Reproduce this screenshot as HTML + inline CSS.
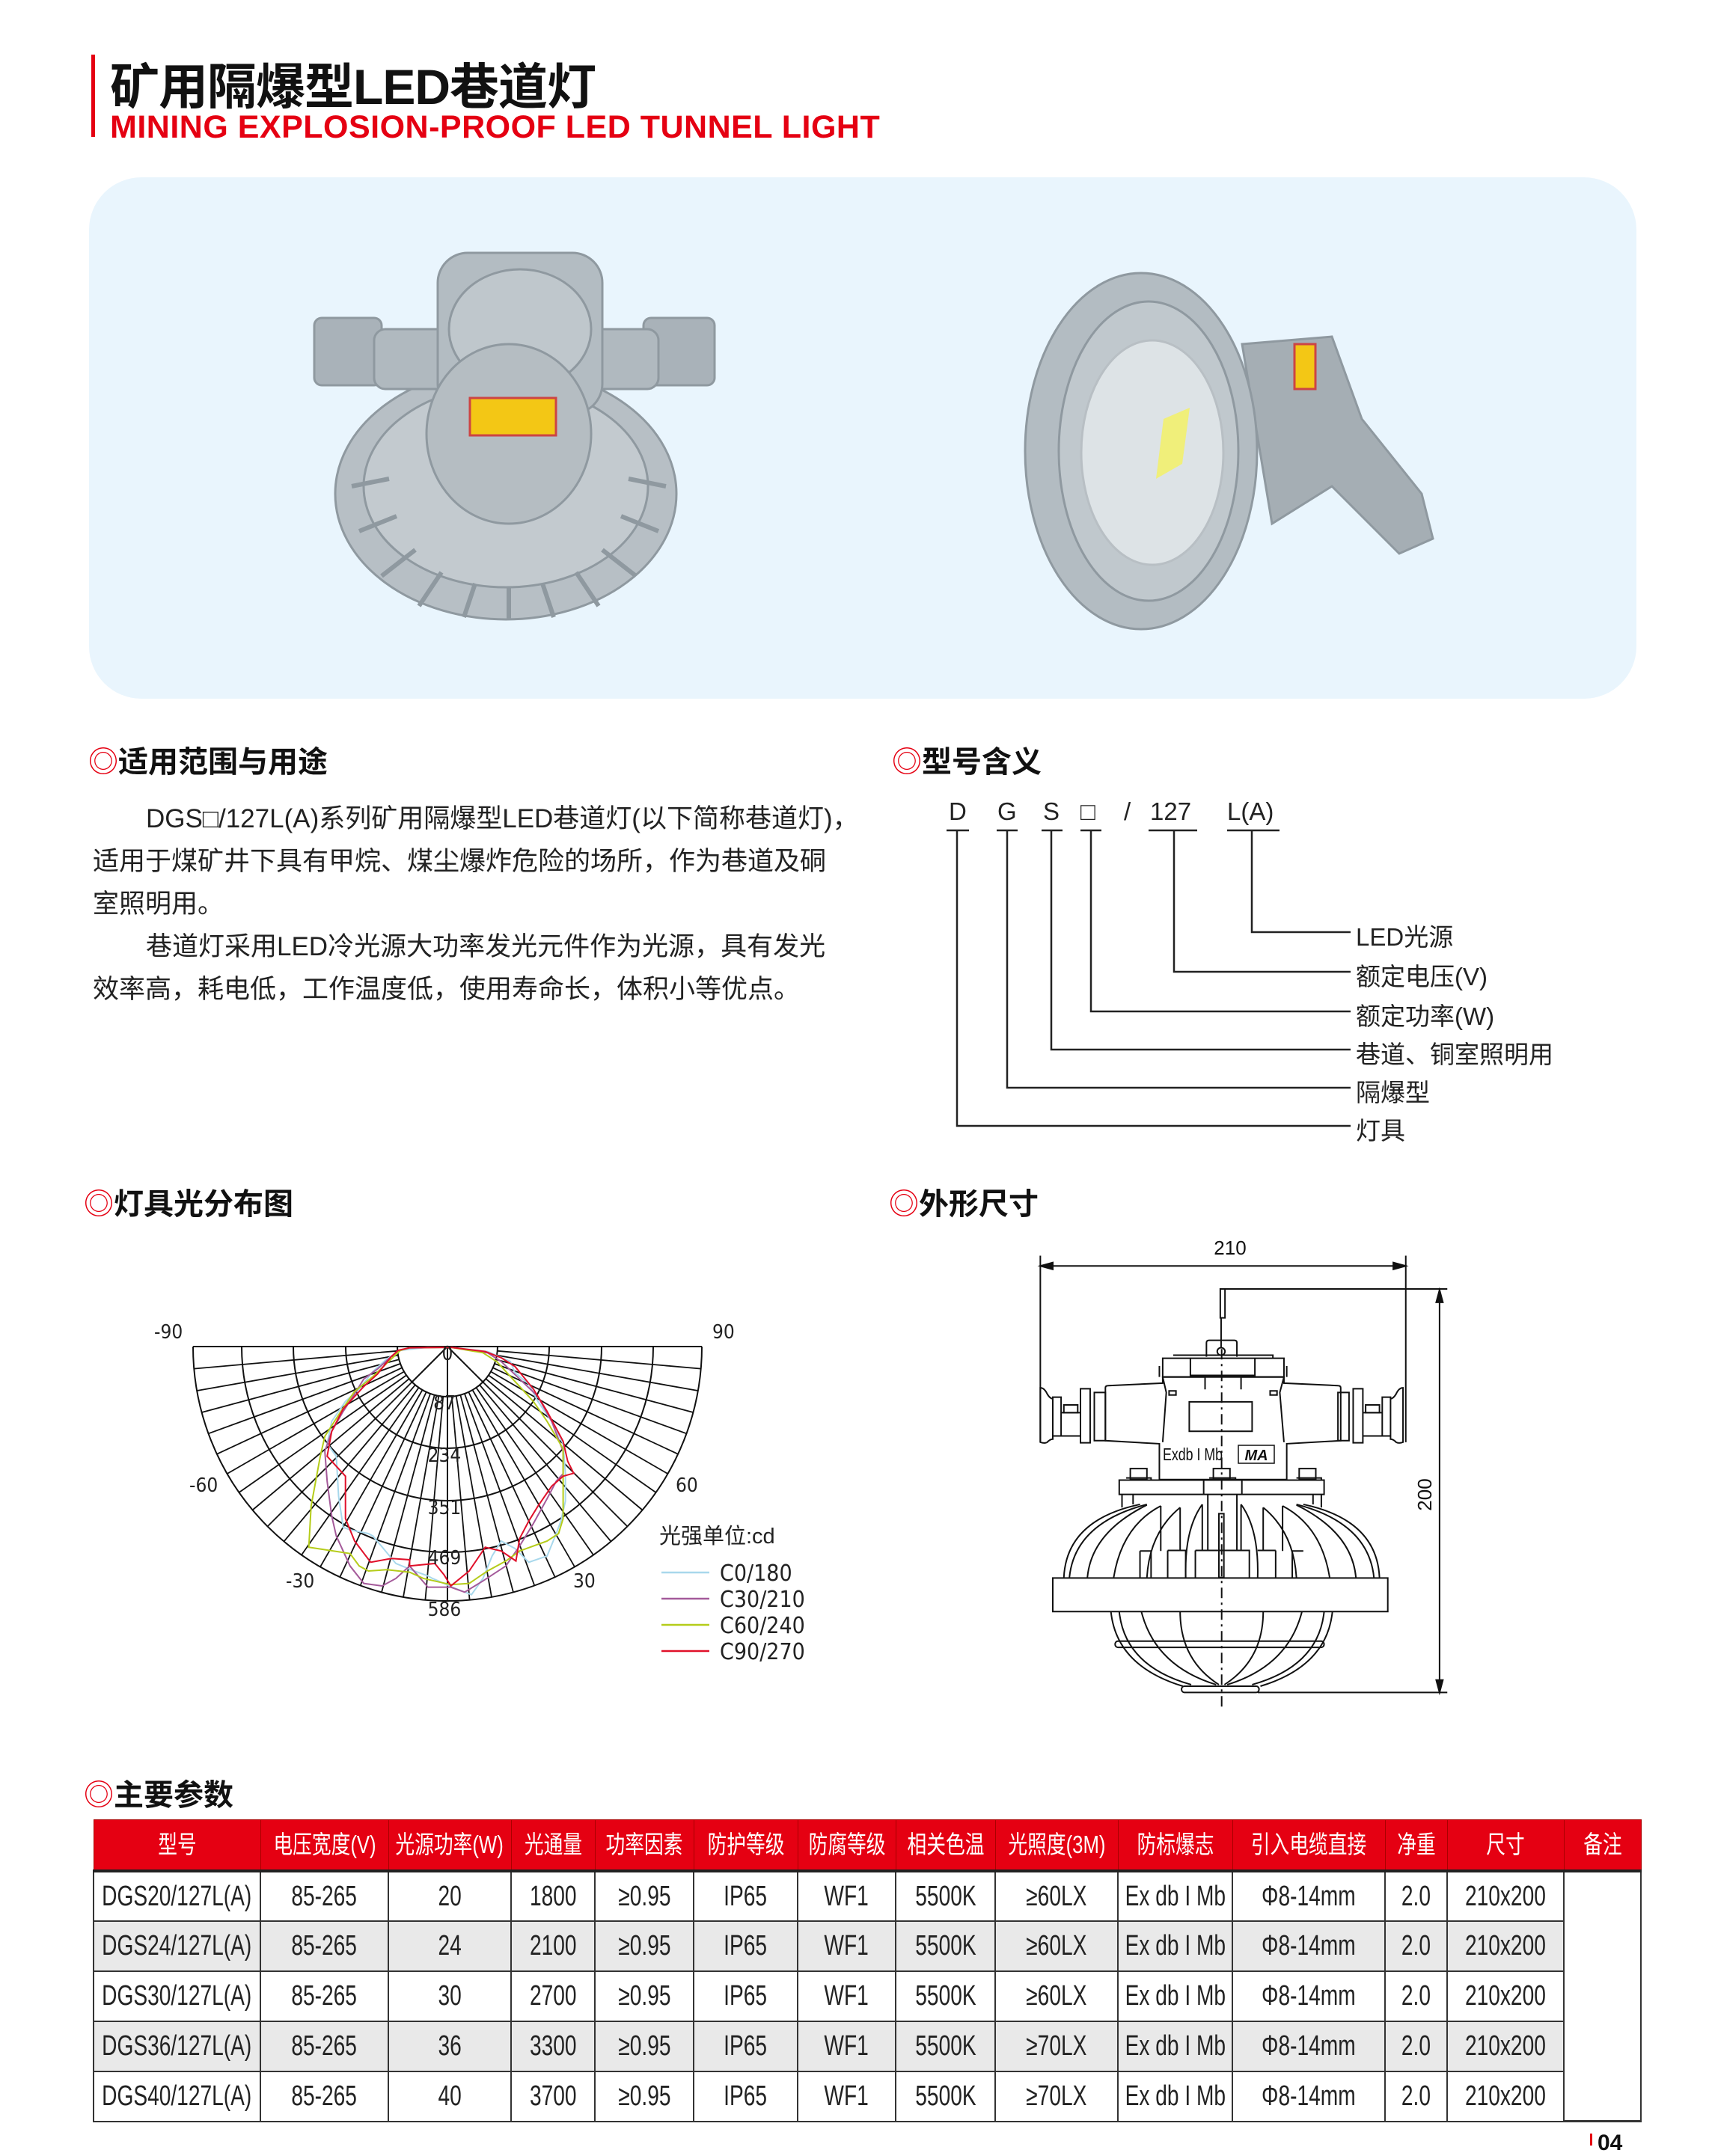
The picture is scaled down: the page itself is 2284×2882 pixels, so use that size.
<!DOCTYPE html>
<html><head><meta charset="utf-8">
<style>
*{margin:0;padding:0;box-sizing:border-box}
body{width:2284px;height:2868px;background:#fff;position:relative;overflow:hidden;font-family:"Liberation Sans","Noto Sans CJK SC",sans-serif;color:#222}
.a{position:absolute;white-space:nowrap}
.h{font-weight:bold;font-size:40px;color:#111}
.h b{color:#e50012;font-weight:normal}
.p{font-size:35px;color:#222}
.lbl{font-size:33px;color:#222}
table{position:absolute;left:124px;top:2432px;border-collapse:collapse;table-layout:fixed;width:2068px}
td{border:2px solid #333;text-align:center;font-size:38px;height:67px;padding:0;white-space:nowrap;overflow:visible;line-height:30px}
td span{display:inline-block;transform:scaleX(0.74);margin:0 -80px}
tr.hd td{background:#e50012;color:#fff;font-size:33px;height:68px;border:1px solid #a00;border-bottom:4px solid #222}
tr.hd td span{transform:scaleX(0.78)}
tr.g td{background:#e9e9e9}
</style></head><body>
<div class="a" style="left:122px;top:73px;width:5px;height:110px;background:#e50012"></div>
<div class="a" style="left:147px;top:63px;font-size:66px;font-weight:bold;color:#111;letter-spacing:-1px">矿用隔爆型LED巷道灯</div>
<div class="a" style="left:147px;top:146px;font-size:43px;font-weight:bold;color:#e50012;letter-spacing:0.5px">MINING EXPLOSION-PROOF LED TUNNEL LIGHT</div>

<div class="a" style="left:119px;top:237px;width:2068px;height:697px;background:#e9f5fd;border-radius:70px"></div>
<svg class="a" style="left:0;top:0" width="2284" height="960">
 <g fill="#a9b2b9" stroke="#8f99a0" stroke-width="3">
  <ellipse cx="676" cy="660" rx="228" ry="168" fill="#b7bfc5"/>
  <ellipse cx="676" cy="650" rx="190" ry="135" fill="#c3cacf"/>
  <g stroke="#8f99a0" stroke-width="6">
   <path d="M470,650L520,640M480,710L530,690M510,770L555,735M560,810L590,765M620,825L635,780M680,828L680,785M740,825L725,780M800,810L770,765M850,770L805,735M880,710L830,690M890,650L840,640"/>
  </g>
  <rect x="420" y="425" width="90" height="90" rx="10"/>
  <rect x="860" y="425" width="95" height="90" rx="10"/>
  <rect x="500" y="440" width="380" height="80" rx="15" fill="#b0b9bf"/>
  <rect x="585" y="338" width="220" height="215" rx="40" fill="#b3bcc2"/>
  <ellipse cx="695" cy="440" rx="95" ry="80" fill="#bfc7cc"/>
  <ellipse cx="680" cy="580" rx="110" ry="120" fill="#b5bdc2"/>
  <rect x="628" y="532" width="115" height="50" fill="#f3c715" stroke="#c44"/>
  <path d="M1660,460 L1780,450 L1820,560 L1900,660 L1915,720 L1870,740 L1780,650 L1700,700 Z" fill="#a5aeb4"/>
  <ellipse cx="1525" cy="603" rx="155" ry="238" fill="#b3bcc2"/>
  <ellipse cx="1535" cy="603" rx="120" ry="200" fill="#c0c8cd"/>
  <ellipse cx="1540" cy="605" rx="95" ry="150" fill="#dde3e6" stroke="#b8bfc4"/>
  <path d="M1555,560 L1590,545 L1580,620 L1545,640 Z" fill="#f0ef7a" stroke="none"/>
  <rect x="1730" y="460" width="28" height="60" fill="#f3c715" stroke="#c44"/>
 </g>
</svg>

<div class="a h" style="left:118px;top:986px"><b>◎</b>适用范围与用途</div>
<div class="a p" style="left:195px;top:1066px">DGS□/127L(A)系列矿用隔爆型LED巷道灯(以下简称巷道灯)，</div>
<div class="a p" style="left:124px;top:1123px">适用于煤矿井下具有甲烷、煤尘爆炸危险的场所，作为巷道及硐</div>
<div class="a p" style="left:124px;top:1180px">室照明用。</div>
<div class="a p" style="left:195px;top:1237px">巷道灯采用LED冷光源大功率发光元件作为光源，具有发光</div>
<div class="a p" style="left:124px;top:1294px">效率高，耗电低，工作温度低，使用寿命长，体积小等优点。</div>

<div class="a h" style="left:1192px;top:986px"><b>◎</b>型号含义</div>
<div class="a lbl" style="left:1268px;top:1066px">D</div>
<div class="a lbl" style="left:1333px;top:1066px">G</div>
<div class="a lbl" style="left:1394px;top:1066px">S</div>
<div class="a lbl" style="left:1444px;top:1066px">□</div>
<div class="a lbl" style="left:1502px;top:1066px">/</div>
<div class="a lbl" style="left:1537px;top:1066px">127</div>
<div class="a lbl" style="left:1640px;top:1066px">L(A)</div>
<svg class="a" style="left:0;top:0" width="2284" height="1540">
 <g stroke="#222" stroke-width="2.5" fill="none">
  <path d="M1265,1110H1295M1332,1110H1360M1392,1110H1420M1444,1110H1472M1535,1110H1600M1640,1110H1710"/>
  <path d="M1279,1110V1505H1805M1346,1110V1454H1805M1405,1110V1403H1805M1458,1110V1352H1805M1569,1110V1299H1805M1673,1110V1246H1805"/>
 </g>
</svg>
<div class="a lbl" style="left:1812px;top:1226px">LED光源</div>
<div class="a lbl" style="left:1812px;top:1279px">额定电压(V)</div>
<div class="a lbl" style="left:1812px;top:1332px">额定功率(W)</div>
<div class="a lbl" style="left:1812px;top:1383px">巷道、铜室照明用</div>
<div class="a lbl" style="left:1812px;top:1434px">隔爆型</div>
<div class="a lbl" style="left:1812px;top:1485px">灯具</div>

<div class="a h" style="left:112px;top:1577px"><b>◎</b>灯具光分布图</div>
<div class="a h" style="left:1188px;top:1577px"><b>◎</b>外形尺寸</div>

<svg class="a" style="left:0;top:0" width="1200" height="2300">
 <g stroke="#111" stroke-width="2" fill="none">
  <path d="M258,1800 H938"/>
  <path d="M531,1800 A67,67 0 0 0 665,1800"/>
  <path d="M462,1800 A136,136 0 0 0 734,1800"/>
  <path d="M392,1800 A206,206 0 0 0 804,1800"/>
  <path d="M323,1800 A275,275 0 0 0 873,1800"/>
  <path d="M258,1800 A340,340 0 0 0 938,1800"/>
  <path d="M598,1800 V2140 M598,1800 L551,1847 M598,1800 L645,1847"/>
  <g id="rad"></g>
 </g>
 <g fill="none" stroke-width="2" transform="translate(180,1740) scale(0.6124,0.3333)">
  <polyline vector-effect="non-scaling-stroke" stroke="#a8d8ec" points="580,195 640,183 690,183 770,200 820,240 830,285 860,330 880,400 910,480 935,570 940,690 940,800 930,880 920,930 900,1020 860,1045 830,990 800,960 780,1020 760,1110 735,1175 700,1150 650,1110 640,1100 610,1080 570,1050 520,940 510,930 470,915 455,905 445,780 440,620 420,570 430,480 460,400 490,350 520,280 550,230 580,195"/>
  <polyline vector-effect="non-scaling-stroke" stroke="#a45a9a" points="580,195 560,220 530,270 500,310 480,370 455,440 430,520 415,600 420,720 430,860 440,940 470,1060 500,1130 540,1140 570,1110 600,1060 640,1145 690,1145 720,1165 760,1120 810,1060 840,980 870,890 900,790 920,720 935,690 935,600 910,480 880,380 840,310 800,240 770,205 690,183 600,185 580,195"/>
  <polyline vector-effect="non-scaling-stroke" stroke="#b5cc1a" points="580,195 560,230 520,300 480,360 450,440 415,540 405,620 385,820 380,985 470,1010 490,1060 510,1080 550,1075 600,1085 630,1110 690,1135 730,1130 770,1080 810,1040 840,1000 900,960 925,930 935,870 935,700 935,590 900,480 870,400 830,320 790,240 760,205 690,183 600,185 580,195"/>
  <polyline vector-effect="non-scaling-stroke" stroke="#e0102a" points="575,195 600,185 690,183 765,200 800,225 830,260 870,350 900,440 935,560 945,640 958,688 935,700 910,740 880,820 860,880 840,950 832,1040 800,1000 765,985 730,1080 690,1140 675,1095 655,1050 600,1060 600,1035 560,1030 515,1045 480,960 460,870 460,700 420,620 430,520 455,430 480,380 500,340 530,290 560,220 575,195"/>
 </g>
 <g stroke-width="2.5">
  <line x1="884" y1="2102" x2="948" y2="2102" stroke="#a8d8ec"/>
  <line x1="884" y1="2137" x2="948" y2="2137" stroke="#a45a9a"/>
  <line x1="884" y1="2172" x2="948" y2="2172" stroke="#b5cc1a"/>
  <line x1="884" y1="2207" x2="948" y2="2207" stroke="#e0102a"/>
 </g>
 <g font-family="DejaVu Sans Condensed, Liberation Sans, sans-serif" font-size="26" fill="#222">
  <text x="206" y="1789">-90</text><text x="952" y="1789">90</text>
  <text x="253" y="1994">-60</text><text x="903" y="1994">60</text>
  <text x="382" y="2122">-30</text><text x="766" y="2122">30</text>
  <text x="598" y="1818" text-anchor="middle">0</text>
  <text x="594" y="1884" text-anchor="middle">87</text>
  <text x="594" y="1954" text-anchor="middle">234</text>
  <text x="594" y="2024" text-anchor="middle">351</text>
  <text x="594" y="2091" text-anchor="middle">469</text>
  <text x="594" y="2160" text-anchor="middle">586</text>
  <text x="881" y="2063" font-family="Liberation Sans, Noto Sans CJK SC, sans-serif" font-size="29">光强单位:cd</text>
  <text x="962" y="2113" font-size="30">C0/180</text>
  <text x="962" y="2148" font-size="30">C30/210</text>
  <text x="962" y="2183" font-size="30">C60/240</text>
  <text x="962" y="2218" font-size="30">C90/270</text>
 </g>
</svg>
<script>
(function(){var g=document.getElementById('rad'),s='';for(var a=-85;a<=85;a+=5){if(a===0)continue;var r=a*Math.PI/180,sx=Math.sin(r),cy=Math.cos(r);s+='M'+(598+67*sx).toFixed(1)+','+(1800+67*cy).toFixed(1)+'L'+(598+340*sx).toFixed(1)+','+(1800+340*cy).toFixed(1);}
g.innerHTML='<path d="'+s+'" stroke="#111" stroke-width="1.8" fill="none"/>';})();
</script>

<svg class="a" style="left:0;top:0" width="2284" height="2320">
 <g transform="translate(1370,1637) scale(0.37,0.4155)" fill="none" stroke="#111" stroke-width="2">
  <path vector-effect="non-scaling-stroke" d="M55,100V700M1375,100V700M55,133H1375M720,207H1525M840,1505H1525M1497,210V1505"/>
  <path vector-effect="non-scaling-stroke" fill="#111" d="M55,133 L100,122 L100,144Z M1375,133 L1330,122 L1330,144Z M1497,210 L1485,250 L1509,250Z M1497,1505 L1485,1465 L1509,1465Z"/>
  <path vector-effect="non-scaling-stroke" d="M705,207H722V300H705ZM708,300V395"/>
  <ellipse vector-effect="non-scaling-stroke" cx="708" cy="408" rx="14" ry="12"/>
  <path vector-effect="non-scaling-stroke" d="M655,425V380Q655,372 665,372H755Q765,372 765,380V425M535,420H895V430M497,430H935V490H497ZM597,430V485H830V430M485,455V490M945,455V490"/>
  <path vector-effect="non-scaling-stroke" d="M290,525Q290,518 300,518L497,510V490H935V510L1130,518Q1140,518 1140,525V695L945,705V820H485V705L290,695Z"/>
  <path vector-effect="non-scaling-stroke" d="M497,490L510,540L497,700M935,490L920,540L935,700M497,490H650V530M935,490H780V530M520,535H545V548H520ZM885,535H910V548H885Z"/>
  <rect vector-effect="non-scaling-stroke" x="593" y="570" width="227" height="95"/>
  <path vector-effect="non-scaling-stroke" d="M250,540H290V695H250ZM200,528H235V702H200ZM130,605H200V680H130ZM100,555H130V680H100ZM55,525Q70,525 80,545Q90,560 100,560V690Q90,690 80,700Q70,705 55,700Z"/>
  <path vector-effect="non-scaling-stroke" d="M1170,540H1130V695H1170ZM1220,528H1185V702H1220ZM1290,605H1220V680H1290ZM1320,555H1290V680H1320ZM1365,525Q1350,525 1340,545Q1330,560 1320,560V690Q1330,690 1340,700Q1350,705 1365,700Z"/>
  <path vector-effect="non-scaling-stroke" d="M140,580H190V605H140ZM1230,580H1280V605H1230ZM380,785H440V820H380ZM680,785H740V820H680ZM990,785H1050V820H990ZM365,815H455V822M665,815H760V822M980,815H1070V822"/>
  <path vector-effect="non-scaling-stroke" d="M340,822H1080V868H340ZM645,822V868M783,822V868M350,868V910M390,868V900M1040,868V900M1070,868V910M660,868V1048M765,868V1048M700,930H718V1135H700Z"/>
  <path vector-effect="non-scaling-stroke" d="M140,1135Q150,950 415,900M160,1135Q180,960 440,900M225,1135Q240,990 440,902M320,1135Q350,970 490,905M440,1135Q450,990 560,910M580,1135Q575,980 640,900M490,905V1050M560,910V1048M640,900V1048"/>
  <path vector-effect="non-scaling-stroke" d="M1280,1135Q1270,950 1005,900M1260,1135Q1240,960 980,900M1195,1135Q1180,990 980,902M1100,1135Q1070,970 930,905M980,1135Q970,990 860,910M840,1135Q845,980 780,900M930,905V1050M860,910V1048M780,900V1048"/>
  <path vector-effect="non-scaling-stroke" d="M415,1050H455V1135M515,1048H580V1135M515,1048V1135M415,1050V1135M615,1048H810V1135M615,1048V1135M1005,1050H965V1135M905,1048H840M905,1048V1135"/>
  <rect vector-effect="non-scaling-stroke" x="100" y="1137" width="1210" height="108"/>
  <path vector-effect="non-scaling-stroke" d="M310,1245Q330,1420 570,1485M340,1245Q360,1420 600,1480M1110,1245Q1090,1420 850,1485M1080,1245Q1060,1420 820,1480M420,1245Q470,1420 690,1480M560,1245Q560,1400 700,1480M1000,1245Q950,1420 730,1480M860,1245Q860,1400 720,1480"/>
  <rect vector-effect="non-scaling-stroke" x="325" y="1340" width="755" height="20" rx="10"/>
  <rect vector-effect="non-scaling-stroke" x="565" y="1485" width="280" height="20" rx="10"/>
  <path vector-effect="non-scaling-stroke" stroke-dasharray="14,6,3,6" d="M710,400V1560"/>
 </g>
 <text x="1644" y="1677" font-size="26" text-anchor="middle" fill="#111" font-family="Liberation Sans,sans-serif">210</text>
 <text transform="translate(1913,1998) rotate(-90)" font-size="26" text-anchor="middle" fill="#111" font-family="Liberation Sans,sans-serif">200</text>
 <text x="1554" y="1952" font-size="23" fill="#111" font-family="Liberation Sans,sans-serif" textLength="80" lengthAdjust="spacingAndGlyphs">Exdb I Mb</text>
 <rect x="1655" y="1932" width="48" height="24" fill="#fff" stroke="#111" stroke-width="1.5"/>
 <text x="1679" y="1952" font-size="20" font-weight="bold" font-style="italic" text-anchor="middle" fill="#111" font-family="Liberation Sans,sans-serif">MA</text>
</svg>

<div class="a h" style="left:112px;top:2367px"><b>◎</b>主要参数</div>
<table>
<colgroup><col style="width:223px"><col style="width:171px"><col style="width:164px"><col style="width:112px"><col style="width:132px"><col style="width:139px"><col style="width:131px"><col style="width:133px"><col style="width:164px"><col style="width:153px"><col style="width:204px"><col style="width:83px"><col style="width:156px"><col style="width:103px"></colgroup>
<tr class="hd"><td><span>型号</span></td><td><span>电压宽度(V)</span></td><td><span>光源功率(W)</span></td><td><span>光通量</span></td><td><span>功率因素</span></td><td><span>防护等级</span></td><td><span>防腐等级</span></td><td><span>相关色温</span></td><td><span>光照度(3M)</span></td><td><span>防标爆志</span></td><td><span>引入电缆直接</span></td><td><span>净重</span></td><td><span>尺寸</span></td><td><span>备注</span></td></tr>
<tr><td><span>DGS20/127L(A)</span></td><td><span>85-265</span></td><td><span>20</span></td><td><span>1800</span></td><td><span>≥0.95</span></td><td><span>IP65</span></td><td><span>WF1</span></td><td><span>5500K</span></td><td><span>≥60LX</span></td><td><span>Ex db I Mb</span></td><td><span>Φ8-14mm</span></td><td><span>2.0</span></td><td><span>210x200</span></td><td rowspan="5" style="border-bottom:3px solid #333;background:#fff"></td></tr>
<tr class="g"><td><span>DGS24/127L(A)</span></td><td><span>85-265</span></td><td><span>24</span></td><td><span>2100</span></td><td><span>≥0.95</span></td><td><span>IP65</span></td><td><span>WF1</span></td><td><span>5500K</span></td><td><span>≥60LX</span></td><td><span>Ex db I Mb</span></td><td><span>Φ8-14mm</span></td><td><span>2.0</span></td><td><span>210x200</span></td></tr>
<tr><td><span>DGS30/127L(A)</span></td><td><span>85-265</span></td><td><span>30</span></td><td><span>2700</span></td><td><span>≥0.95</span></td><td><span>IP65</span></td><td><span>WF1</span></td><td><span>5500K</span></td><td><span>≥60LX</span></td><td><span>Ex db I Mb</span></td><td><span>Φ8-14mm</span></td><td><span>2.0</span></td><td><span>210x200</span></td></tr>
<tr class="g"><td><span>DGS36/127L(A)</span></td><td><span>85-265</span></td><td><span>36</span></td><td><span>3300</span></td><td><span>≥0.95</span></td><td><span>IP65</span></td><td><span>WF1</span></td><td><span>5500K</span></td><td><span>≥70LX</span></td><td><span>Ex db I Mb</span></td><td><span>Φ8-14mm</span></td><td><span>2.0</span></td><td><span>210x200</span></td></tr>
<tr><td><span>DGS40/127L(A)</span></td><td><span>85-265</span></td><td><span>40</span></td><td><span>3700</span></td><td><span>≥0.95</span></td><td><span>IP65</span></td><td><span>WF1</span></td><td><span>5500K</span></td><td><span>≥70LX</span></td><td><span>Ex db I Mb</span></td><td><span>Φ8-14mm</span></td><td><span>2.0</span></td><td><span>210x200</span></td></tr>
</table>
<div class="a" style="left:2125px;top:2852px;width:3px;height:16px;background:#e50012"></div>
<div class="a" style="left:2135px;top:2848px;font-size:30px;font-weight:bold;color:#111">04</div>
</body></html>
